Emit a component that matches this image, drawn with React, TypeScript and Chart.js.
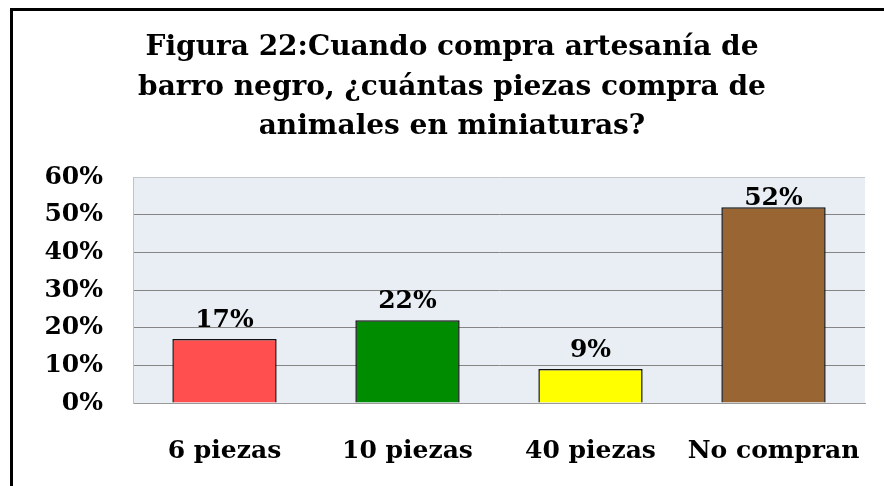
import React, { useEffect, useRef } from "react";
import { Chart, registerables } from "chart.js";

Chart.register(...registerables);

const titleLines = [
  "Figura 22:Cuando compra artesanía de",
  "barro negro, ¿cuántas piezas compra de",
  "animales en miniaturas?",
];
const categories = ["6 piezas", "10 piezas", "40 piezas", "No compran"];
const values = [17, 22, 9, 52];
const barColors = ["#ff4f4f", "#008c00", "#ffff00", "#996633"];
const yTicks = [0, 10, 20, 30, 40, 50, 60];

const FONT = "'DejaVu Serif', 'Liberation Serif', serif";

const bgPlugin = {
  id: "plotBg",
  beforeDraw(chart: any) {
    const { ctx, chartArea } = chart;
    ctx.save();
    ctx.fillStyle = "#ffffff";
    ctx.fillRect(0, 0, chart.width, chart.height);
    ctx.fillStyle = "#e8eef3";
    ctx.fillRect(chartArea.left, chartArea.top, chartArea.right - chartArea.left, chartArea.bottom - chartArea.top);
    ctx.restore();
  },
};

const titlePlugin = {
  id: "customTitle",
  afterDraw(chart: any) {
    const { ctx } = chart;
    ctx.save();
    ctx.fillStyle = "#000";
    ctx.font = `bold 28px ${FONT}`;
    ctx.textAlign = "center";
    ctx.textBaseline = "middle";
    titleLines.forEach((line, i) => {
      ctx.fillText(line, 452, 48 + i * 39.5);
    });
    ctx.restore();
  },
};

const labelPlugin = {
  id: "valueLabels",
  afterDatasetsDraw(chart: any) {
    const { ctx, chartArea } = chart;
    const meta = chart.getDatasetMeta(0);
    ctx.save();
    ctx.fillStyle = "#000";
    ctx.font = `bold 25px ${FONT}`;
    ctx.textAlign = "center";
    ctx.textBaseline = "alphabetic";
    meta.data.forEach((bar: any, i: number) => {
      const y = Math.max(bar.y - 12, chartArea.top + 28);
      ctx.fillText(values[i] + "%", bar.x, y);
    });
    ctx.restore();
  },
};

export default function App() {
  const ref = useRef<HTMLCanvasElement>(null);
  useEffect(() => {
    if (!ref.current) return;
    const chart = new Chart(ref.current, {
      type: "bar",
      data: {
        labels: categories,
        datasets: [
          {
            data: values,
            backgroundColor: barColors,
            borderColor: "#111111",
            borderWidth: 1.5,
            categoryPercentage: 1,
            barPercentage: 0.57,
          },
        ],
      },
      options: {
        animation: false,
        responsive: false,
        devicePixelRatio: 1,
        layout: { padding: { left: 0, right: 19, top: 177, bottom: 0 } },
        plugins: {
          legend: { display: false },
          title: { display: false },
          tooltip: { enabled: false },
        },
        scales: {
          x: {
            grid: { display: false, drawTicks: false },
            border: { display: true, color: "#9a9a9a", width: 1 },
            ticks: {
              color: "#000",
              padding: 33,
              font: { family: FONT, size: 25, weight: "bold" },
            },
            afterFit(scale: any) {
              scale.height = 83;
              scale.paddingLeft = 0;
              scale.paddingRight = 0;
            },
          },
          y: {
            min: 0,
            max: 60,
            afterBuildTicks(scale: any) {
              scale.ticks = yTicks.map((v) => ({ value: v }));
            },
            grid: {
              drawTicks: false,
              color: (c: any) => (c.tick && c.tick.value === 60 ? "#c4c8cc" : "#858585"),
              lineWidth: 1,
            },
            border: { display: true, color: "#bfc3c7", width: 1 },
            ticks: {
              color: "#000",
              padding: 30,
              font: { family: FONT, size: 25, weight: "bold" },
              callback: (v: any) => v + "%",
            },
            afterFit(scale: any) {
              scale.width = 133;
            },
          },
        },
      },
      plugins: [bgPlugin, titlePlugin, labelPlugin],
    });
    return () => chart.destroy();
  }, []);

  return (
    <div style={{ position: "fixed", left: 0, top: 0, width: 884, height: 486, background: "#fff" }}>
      <canvas ref={ref} width={884} height={486} style={{ position: "absolute", left: 0, top: 0 }} />
      <div
        style={{
          position: "absolute",
          left: 10,
          top: 8,
          right: 0,
          bottom: 0,
          borderLeft: "3px solid #000",
          borderTop: "3px solid #000",
          pointerEvents: "none",
        }}
      />
    </div>
  );
}
